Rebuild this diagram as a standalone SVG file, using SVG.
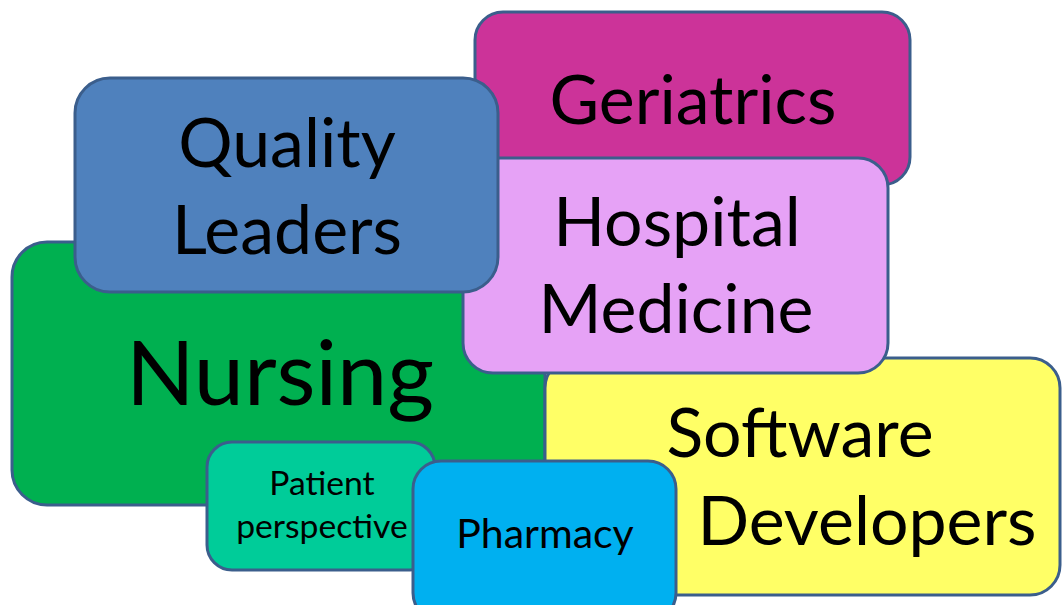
<svg xmlns="http://www.w3.org/2000/svg" width="1062" height="605" viewBox="0 0 1062 605">
<style>
.box{stroke:#3B5E8C;stroke-width:3}
.t{font-family:Lato,"Open Sans","Liberation Sans",sans-serif;fill:#000;text-anchor:middle}
.big{font-size:68px}
</style>
<rect width="1062" height="605" fill="#fff"/>
<g id="geriatrics">
<rect class="box" x="475" y="12" width="435" height="173" rx="28" fill="#CC3399"/>
<text class="t big" x="693" y="124">Geriatrics</text>
</g>
<g id="nursing">
<rect class="box" x="12" y="242" width="533" height="263" rx="35" fill="#00B050"/>
<text class="t" x="280" y="405" font-size="90">Nursing</text>
</g>
<g id="software">
<rect class="box" x="545" y="358" width="515" height="237" rx="30" fill="#FFFF66"/>
<text class="t big" x="800" y="457">Software</text>
<text class="t big" x="867" y="545" font-size="67">Developers</text>
</g>
<g id="hospital">
<rect class="box" x="463" y="158" width="425" height="215" rx="30" fill="#E6A2F6"/>
<text class="t big" x="677" y="246">Hospital</text>
<text class="t big" x="676" y="333">Medicine</text>
</g>
<g id="quality">
<rect class="box" x="75" y="78" width="423" height="214" rx="35" fill="#4F81BD"/>
<text class="t big" x="287" y="167">Quality</text>
<text class="t big" x="287" y="254">Leaders</text>
</g>
<g id="patient">
<rect class="box" x="207" y="442" width="228" height="128" rx="25" fill="#00CC99"/>
<text class="t" x="322" y="495" font-size="33.7">Patient</text>
<text class="t" x="322" y="538" font-size="33.7">perspective</text>
</g>
<g id="pharmacy">
<rect class="box" x="413" y="461" width="263" height="160" rx="28" fill="#00B0F0"/>
<text class="t" x="545" y="548" font-size="41">Pharmacy</text>
</g>
<g id="connectors"></g>
</svg>
